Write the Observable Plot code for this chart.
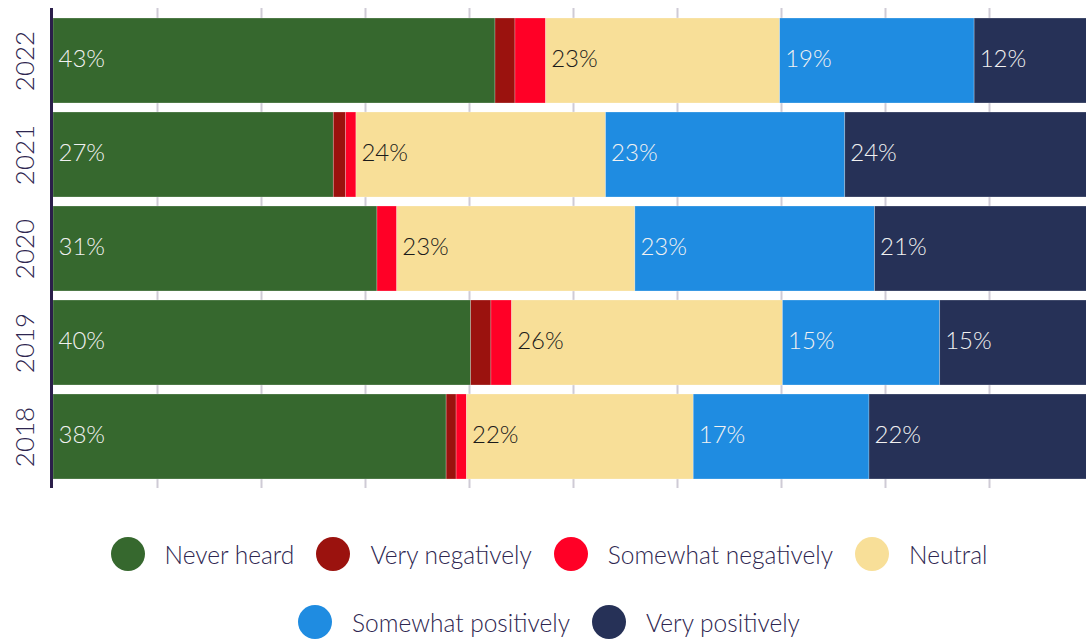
<!DOCTYPE html>
<html>
<head>
<meta charset="utf-8">
<script src="https://cdn.jsdelivr.net/npm/d3@7"></script>
<script src="https://cdn.jsdelivr.net/npm/@observablehq/plot@0.6"></script>
<style>
  html, body { margin: 0; padding: 0; background: #fff; }
  body { width: 1086px; height: 639px; overflow: hidden; font-family: Lato, "Open Sans", sans-serif; }
  #legend { margin-top: 37px; padding-left: 12px; color: #2e2650; font-size: 24.5px; font-weight: 300; }
  .row { display: flex; justify-content: center; align-items: center; height: 34px; }
  .row + .row { margin-top: 34px; }
  .item { display: flex; align-items: center; margin: 0 11px; }
  .sw { width: 34px; height: 34px; border-radius: 50%; margin-right: 20px; }
</style>
</head>
<body>
<div id="chart"></div>
<div id="legend"></div>
<script>
const years = ["2022", "2021", "2020", "2019", "2018"];
const categories = ["Never heard", "Very negatively", "Somewhat negatively", "Neutral", "Somewhat positively", "Very positively"];
const colors = ["#36682e", "#9b120e", "#ff0026", "#f8df98", "#1f8ce1", "#263157"];
// values per category, in year order
const neverHeard = [42.5, 26.95, 31.15, 40.16, 37.8];
const veryNeg = [1.92, 1.19, 0, 1.95, 0.96];
const somewhatNeg = [2.95, 0.99, 1.9, 1.99, 1.0];
const neutral = [22.5, 24.0, 22.9, 26.04, 21.8];
const somewhatPos = [18.7, 23.0, 23.05, 15.12, 16.9];
const veryPos = [11.6, 23.85, 20.85, 14.8, 21.66];
const xTicks = [10, 20, 30, 40, 50, 60, 70, 80, 90];
const legendRows = [[0, 1, 2, 3], [4, 5]];

const series = [neverHeard, veryNeg, somewhatNeg, neutral, somewhatPos, veryPos];
const data = [];
years.forEach((y, i) => categories.forEach((c, j) => data.push({year: y, cat: c, value: series[j][i]})));

const labelled = new Set(["Never heard", "Neutral", "Somewhat positively", "Very positively"]);
const fmt = d => Math.round(d.value) + "%";

const stackOpts = {x: "value", y: "year", z: "cat", order: categories};

const chart = Plot.plot({
  width: 1086,
  height: 500,
  marginLeft: 53,
  marginRight: -7,
  marginTop: 8,
  marginBottom: 12,
  style: {fontFamily: "Lato, 'Open Sans', sans-serif", background: "#fff"},
  x: {domain: [0, 100], axis: null},
  y: {domain: years, padding: 0.1, axis: null},
  color: {domain: categories, range: colors},
  marks: [
    Plot.ruleX(xTicks, {stroke: "#cfcbd6", strokeWidth: 2}),
    Plot.barX(data, Plot.stackX({...stackOpts, fill: "cat", inset: 0, stroke: "#ffffff", strokeOpacity: 0.35, strokeWidth: 0.7})),
    Plot.text(data, Plot.stackX1({...stackOpts,
      text: d => (labelled.has(d.cat) && d.cat !== "Neutral") ? fmt(d) : "",
      textAnchor: "start", dx: 5, dy: -2, fill: "#f1f1f1", fontSize: 24, fontWeight: 300})),
    Plot.text(data, Plot.stackX1({...stackOpts,
      text: d => d.cat === "Neutral" ? fmt(d) : "",
      textAnchor: "start", dx: 5, dy: -2, fill: "#1b1b1b", fontSize: 24, fontWeight: 300})),
    Plot.text(years, {y: d => d, text: d => d, frameAnchor: "left", rotate: -90, dx: -28, lineAnchor: "middle", textAnchor: "middle", fill: "#2e2650", fontSize: 26, fontWeight: 300}),
    Plot.ruleX([0], {stroke: "#2b1f4a", strokeWidth: 3, dx: -2})
  ]
});
document.getElementById("chart").appendChild(chart);

const legend = document.getElementById("legend");
legendRows.forEach(r => {
  const row = document.createElement("div");
  row.className = "row";
  r.forEach(j => {
    const it = document.createElement("div");
    it.className = "item";
    const sw = document.createElement("span");
    sw.className = "sw";
    sw.style.background = colors[j];
    const t = document.createElement("span");
    t.textContent = categories[j];
    it.appendChild(sw); it.appendChild(t);
    row.appendChild(it);
  });
  legend.appendChild(row);
});
</script>
</body>
</html>
